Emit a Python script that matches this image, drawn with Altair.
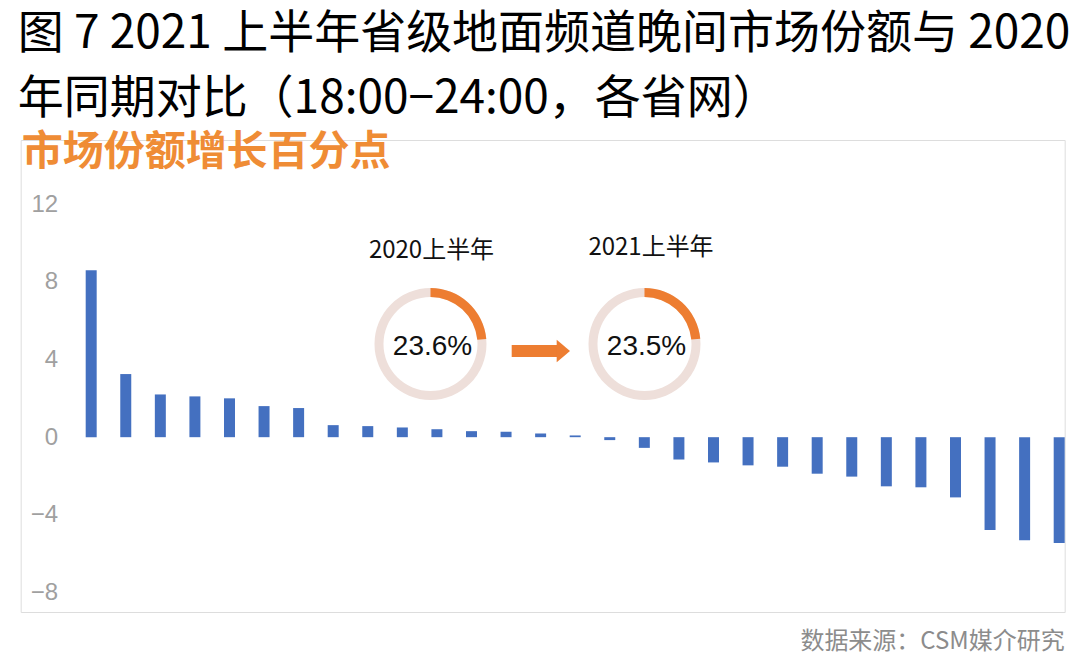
import math
import altair as alt
import pandas as pd

# ---- data ----
ranks = list(range(1, 30))
growth = [8.6, 3.25, 2.2, 2.1, 2.0, 1.6, 1.5, 0.62, 0.57, 0.5, 0.41, 0.31, 0.28,
          0.19, 0.09, -0.15, -0.55, -1.15, -1.3, -1.45, -1.52, -1.88, -2.03,
          -2.53, -2.58, -3.1, -4.78, -5.3, -5.45]
y_ticks = [-8, -4, 0, 4, 8, 12]
period_labels = ["2020上半年", "2021上半年"]
period_shares = [23.6, 23.5]

title_lines = ["图 7 2021 上半年省级地面频道晚间市场份额与 2020",
               "年同期对比（18:00−24:00，各省网）"]
subtitle = "市场份额增长百分点"
source = "数据来源：CSM媒介研究"

W, H = 1044, 472
CJK = "Noto Sans CJK SC"
ORANGE = "#ED7D31"

bars_df = pd.DataFrame({"rank": ranks, "growth": growth})

bars = alt.Chart(bars_df).mark_bar(color="#4470C0").encode(
    x=alt.X("rank:O", axis=None,
            scale=alt.Scale(paddingInner=0.682, paddingOuter=0.94, align=1)),
    y=alt.Y("growth:Q",
            scale=alt.Scale(domain=[-9.0, 15.3], nice=False, zero=False),
            axis=alt.Axis(values=y_ticks, title=None, grid=False, domain=False,
                          ticks=False, labelPadding=0, offset=-37,
                          labelFont="Liberation Sans", labelFontSize=24,
                          labelColor="#A0A0A0")),
)

layers = [bars]

sub = alt.Chart(pd.DataFrame({"t": [subtitle]})).mark_text(
    font=CJK, fontSize=41, fontWeight="bold", color="#EF8C35",
    align="left", baseline="middle").encode(
    x=alt.value(1), y=alt.value(13), text="t:N")
layers.append(sub)

centers = [(409.8, 204), (623.8, 204)]
label_pos = [(410.8, 111), (630.3, 108)]
for lab, share, (cx, cy), (lx, ly) in zip(period_labels, period_shares, centers, label_pos):
    d = pd.DataFrame({"label": [lab], "share": [share],
                      "txt": [f"{share:.1f}%"]})
    ring = alt.Chart(d).mark_arc(radius=56, radius2=47, theta=0,
                                 theta2=2 * math.pi, color="#EEDFDA").encode(
        x=alt.value(cx), y=alt.value(cy))
    arc = alt.Chart(d).mark_arc(radius=56, radius2=47, color=ORANGE).encode(
        theta=alt.Theta("share:Q", scale=alt.Scale(domain=[0, 100],
                                                   range=[0, 2 * math.pi])),
        x=alt.value(cx), y=alt.value(cy))
    pct = alt.Chart(d).mark_text(font="Liberation Sans", fontSize=28,
                                 color="#111111", align="center",
                                 baseline="middle").encode(
        x=alt.value(cx + 2), y=alt.value(cy + 3), text="txt:N")
    head = alt.Chart(d).mark_text(font=CJK, fontSize=24, color="#111111",
                                  align="center", baseline="middle").encode(
        x=alt.value(lx), y=alt.value(ly), text="label:N")
    layers += [ring, arc, pct, head]

arrow_body = alt.Chart(pd.DataFrame({"a": [1]})).mark_rule(
    color=ORANGE, strokeWidth=12, strokeCap="butt").encode(
    x=alt.value(491), x2=alt.value(537), y=alt.value(211))
arrow_head = alt.Chart(pd.DataFrame({"a": [1]})).mark_point(
    shape="M0,-1L1.18,0L0,1Z", filled=True, opacity=1, color=ORANGE,
    size=511, strokeWidth=0).encode(
    x=alt.value(536), y=alt.value(211))
layers += [arrow_body, arrow_head]

foot = alt.Chart(pd.DataFrame({"t": [source]})).mark_text(
    font=CJK, fontSize=24, color="#8C8C8C", align="right",
    baseline="middle").encode(
    x=alt.value(W), y=alt.value(H + 30), text="t:N")
layers.append(foot)

chart = alt.layer(*layers).properties(
    width=W, height=H,
    title=alt.TitleParams(text=title_lines, anchor="start", frame="group",
                          font=CJK, fontSize=46, fontWeight="normal",
                          color="#000000", lineHeight=65, offset=9, dx=-3),
    autosize=alt.AutoSizeParams(type="none"),
    padding={"left": 12.7, "top": 132, "right": 5, "bottom": 48},
).configure_view(fill="#F0F0F0", stroke="transparent", strokeWidth=0).configure(background="white")

chart.save("out.html", embed_options={"renderer": "svg", "actions": False})
